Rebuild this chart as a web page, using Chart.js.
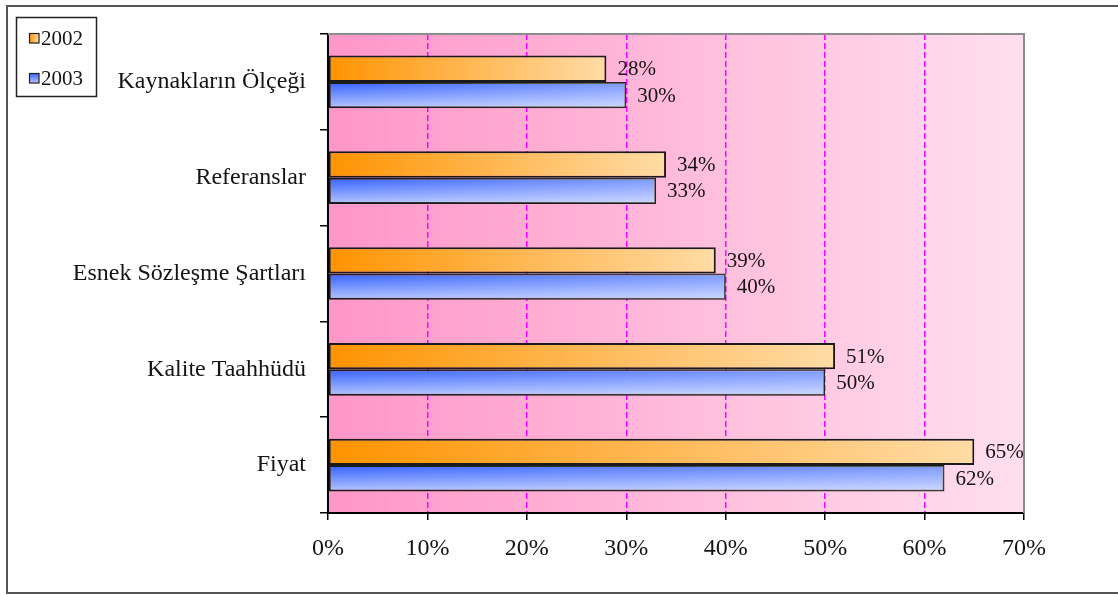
<!DOCTYPE html>
<html>
<head>
<meta charset="utf-8">
<script src="https://cdn.jsdelivr.net/npm/chart.js@4"></script>
<style>
  html, body { margin: 0; padding: 0; background: #fff; }
  canvas { display: block; }
</style>
</head>
<body>
<canvas id="grafik" width="1118" height="595"></canvas>
<script>
// Kategoriler ve yıllara göre yüzdeler
const kategoriler = ['Kaynakların Ölçeği', 'Referanslar', 'Esnek Sözleşme Şartları', 'Kalite Taahhüdü', 'Fiyat'];
const yillar = ['2002', '2003'];
const degerler2002 = [28, 34, 39, 51, 65];
const degerler2003 = [30, 33, 40, 50, 62];
const eksenMin = 0;
const eksenMax = 70;
const eksenAdim = 10;

const yaziTipi = "'Liberation Serif', 'Times New Roman', serif";
const kategoriOrani = 0.55;

// Renk geçişleri: 2002 turuncu (yatay), 2003 mavi (dikey)
const turuncu = ['#ff9300', '#ffdca6'];
const mavi = ['#3360ff', '#b6c6ff'];

function cubukDolgu(context) {
    const chart = context.chart;
    const alan = chart.chartArea;
    if (!alan || context.type !== 'data') {
        return context.datasetIndex === 0 ? '#ffb760' : '#7090ff';
    }
    const ctx = chart.ctx;
    const xOlcek = chart.scales.x;
    const yOlcek = chart.scales.y;
    if (context.datasetIndex === 0) {
        const x0 = xOlcek.getPixelForValue(0);
        const x1 = xOlcek.getPixelForValue(context.raw);
        const g = ctx.createLinearGradient(x0, 0, x1, 0);
        g.addColorStop(0, turuncu[0]);
        g.addColorStop(1, turuncu[1]);
        return g;
    }
    const merkez = yOlcek.getPixelForValue(context.dataIndex);
    const bant = yOlcek.height / kategoriler.length;
    const boy = bant * kategoriOrani / 2;
    const g = ctx.createLinearGradient(0, merkez, 0, merkez + boy);
    g.addColorStop(0, mavi[0]);
    g.addColorStop(1, mavi[1]);
    return g;
}

// Çizim alanı zemini, çerçeveler, değer etiketleri ve gösterge
const sekillendirme = {
    id: 'sekillendirme',
    beforeDraw(chart) {
        const { ctx, chartArea: a } = chart;
        ctx.save();
        ctx.fillStyle = '#fff';
        ctx.fillRect(0, 0, chart.width, chart.height);
        const g = ctx.createLinearGradient(a.left, 0, a.right, 0);
        g.addColorStop(0, '#ff96c8');
        g.addColorStop(1, '#ffdfee');
        ctx.fillStyle = g;
        ctx.fillRect(a.left, a.top, a.right - a.left, a.bottom - a.top);
        ctx.restore();
    },
    afterDatasetDraw(chart, args) {
        if (args.index !== 1) return;
        const ctx = chart.ctx;
        ctx.save();
        args.meta.data.forEach(el => {
            const p = el.getProps(['x', 'y', 'base', 'height'], true);
            const sol = p.base + 1, sag = p.x - 1;
            const ust = p.y - p.height / 2 + 1, alt = p.y + p.height / 2 - 1;
            const g = ctx.createLinearGradient(sol, 0, sag, 0);
            g.addColorStop(0, 'rgba(255,255,255,0)');
            g.addColorStop(1, 'rgba(255,255,255,0.35)');
            ctx.fillStyle = g;
            ctx.fillRect(sol, ust, sag - sol, alt - ust);
        });
        ctx.restore();
    },
    afterDraw(chart) {
        const { ctx, chartArea: a } = chart;
        ctx.save();
        // çizim alanının üst ve sağ kenarı
        ctx.strokeStyle = '#8c8c8c';
        ctx.lineWidth = 2;
        ctx.beginPath();
        ctx.moveTo(a.left, a.top);
        ctx.lineTo(a.right, a.top);
        ctx.lineTo(a.right, a.bottom);
        ctx.stroke();

        // değer etiketleri
        ctx.font = '21px ' + yaziTipi;
        ctx.fillStyle = '#141414';
        ctx.textAlign = 'left';
        ctx.textBaseline = 'middle';
        chart.data.datasets.forEach((ds, i) => {
            chart.getDatasetMeta(i).data.forEach((el, j) => {
                ctx.fillText(ds.data[j] + '%', el.x + 11, el.y + 1);
            });
        });

        // gösterge
        ctx.strokeStyle = '#222';
        ctx.lineWidth = 1.5;
        ctx.strokeRect(16.5, 17.5, 80, 79);
        const renkler = [turuncu, mavi];
        yillar.forEach((yil, i) => {
            const yMerkez = 38 + i * 40;
            const g = i === 0
                ? ctx.createLinearGradient(29, 0, 39, 0)
                : ctx.createLinearGradient(0, yMerkez - 5, 0, yMerkez + 5);
            g.addColorStop(0, renkler[i][0]);
            g.addColorStop(1, renkler[i][1]);
            ctx.fillStyle = g;
            ctx.fillRect(29, yMerkez - 5, 10, 10);
            ctx.lineWidth = 1.2;
            ctx.strokeRect(29.5, yMerkez - 4.5, 9.5, 9.5);
            ctx.fillStyle = '#141414';
            ctx.font = '21px ' + yaziTipi;
            ctx.fillText(yil, 41, yMerkez + 1);
        });

        // dış çerçeve
        ctx.strokeStyle = '#555';
        ctx.lineWidth = 2;
        ctx.strokeRect(7, 6, chart.width + 10, 587);
        ctx.restore();
    }
};

new Chart(document.getElementById('grafik'), {
    type: 'bar',
    data: {
        labels: kategoriler,
        datasets: [
            {
                label: yillar[0],
                data: degerler2002,
                backgroundColor: cubukDolgu,
                borderColor: '#1a1a1a',
                borderWidth: 2,
                borderSkipped: false,
                categoryPercentage: kategoriOrani,
                barPercentage: 1
            },
            {
                label: yillar[1],
                data: degerler2003,
                backgroundColor: cubukDolgu,
                borderColor: '#1a1a1a',
                borderWidth: 2,
                borderSkipped: false,
                categoryPercentage: kategoriOrani,
                barPercentage: 1
            }
        ]
    },
    options: {
        indexAxis: 'y',
        responsive: false,
        animation: false,
        events: [],
        layout: { padding: { left: 0, top: 34, right: 94, bottom: 0 } },
        plugins: {
            legend: { display: false },
            tooltip: { enabled: false }
        },
        scales: {
            x: {
                min: eksenMin,
                max: eksenMax,
                afterFit(scale) { scale.height = 82; },
                ticks: {
                    stepSize: eksenAdim,
                    padding: 14,
                    color: '#141414',
                    font: { family: yaziTipi, size: 24 },
                    callback: v => v + '%'
                },
                grid: {
                    color: c => (c.tick && (c.tick.value === eksenMin || c.tick.value === eksenMax)) ? 'rgba(0,0,0,0)' : '#ff00ff',
                    lineWidth: 1.5,
                    tickColor: '#000',
                    tickWidth: 1.5,
                    tickLength: 7,
                    tickBorderDash: []
                },
                border: { color: '#000', width: 2, dash: [6, 3] }
            },
            y: {
                afterFit(scale) { scale.width = 328; },
                ticks: {
                    padding: 14,
                    color: '#141414',
                    font: { family: yaziTipi, size: 24 }
                },
                grid: {
                    drawOnChartArea: false,
                    color: '#000',
                    lineWidth: 1.5,
                    tickLength: 8
                },
                border: { color: '#000', width: 2 }
            }
        }
    },
    plugins: [sekillendirme]
});
</script>
</body>
</html>
